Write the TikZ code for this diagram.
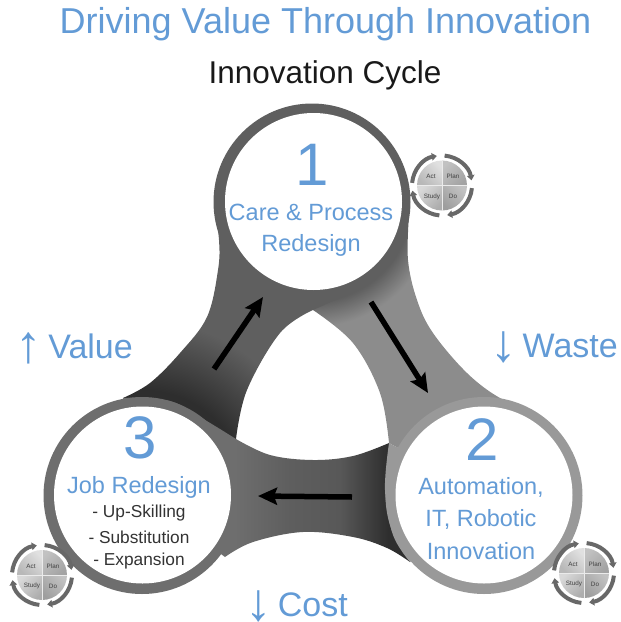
\documentclass[tikz,border=0pt]{standalone}
\usepackage{fontspec}
\setmainfont{Liberation Sans}
\usetikzlibrary{arrows.meta}
\definecolor{blueT}{HTML}{639BD6}
\definecolor{ringA}{HTML}{5F5F5F}
\definecolor{ringB}{HTML}{999999}
\definecolor{ringC}{HTML}{6E6E6E}
\definecolor{bandB}{HTML}{8C8C8C}
\definecolor{darkS}{HTML}{2E2E2E}
\definecolor{midC}{HTML}{5E5E5E}
\definecolor{midD}{HTML}{585858}
\definecolor{iconG}{HTML}{686868}
\pgfdeclareradialshading{shA}{\pgfpointorigin}{color(0bp)=(darkS); color(8.75bp)=(darkS); color(14.6bp)=(ringA); color(50bp)=(ringA)}
\pgfdeclareradialshading{shB}{\pgfpointorigin}{color(0bp)=(ringA); color(8.3bp)=(ringA); color(10.4bp)=(bandB); color(50bp)=(bandB)}
\pgfdeclarehorizontalshading{shC}{100bp}{color(0bp)=(ringC); color(46bp)=(ringC); color(54.7bp)=(midC); color(62.5bp)=(midD); color(70bp)=(darkS); color(100bp)=(darkS)}
\newcommand{\upmark}{\raisebox{-4pt}{\fontsize{53}{53}\selectfont ↑}}
\newcommand{\downmark}{\raisebox{-4pt}{\fontsize{53}{53}\selectfont ↓}}
\tikzset{
  titlet/.style={text=blueT,font=\fontsize{36}{36}\selectfont,inner sep=0pt},
  subt/.style={text=black!90,font=\fontsize{31.5}{31.5}\selectfont,inner sep=0pt},
  numt/.style={text=blueT,font=\fontsize{60}{60}\selectfont,inner sep=0pt},
  labt/.style={text=blueT,font=\fontsize{23.5}{23.5}\selectfont,inner sep=0pt},
  sidet/.style={text=blueT,font=\fontsize{34}{34}\selectfont,inner sep=0pt,anchor=base east},
  listt/.style={text=black!80,font=\fontsize{17.3}{17.3}\selectfont,inner sep=0pt},
  flow/.style={line width=5.5pt,draw=black,-{Stealth[length=19pt,width=17pt,inset=3pt]}},
  pdcat/.style={font=\fontsize{6.3}{6.3}\selectfont,text=black!75,inner sep=0pt},
  cyc/.style={draw=iconG,line width=4pt,-{Triangle[length=5pt,width=7.5pt]}},
  pics/pdca/.style={code={
    \begin{scope}[y=1pt,x=1pt]
      \shade[top color=black!12,bottom color=black!28,shading angle=315] (0,0) -- (-25,0) arc[start angle=180,end angle=90,radius=25pt] -- cycle;
      \shade[top color=black!24,bottom color=black!36,shading angle=45] (0,0) -- (0,25) arc[start angle=90,end angle=0,radius=25pt] -- cycle;
      \shade[top color=black!24,bottom color=black!38,shading angle=315] (0,0) -- (25,0) arc[start angle=0,end angle=-90,radius=25pt] -- cycle;
      \shade[top color=black!15,bottom color=black!32,shading angle=45] (0,0) -- (0,-25) arc[start angle=-90,end angle=-180,radius=25pt] -- cycle;
      \draw[black!8,line width=.7pt] (-25,0) -- (25,0) (0,-25) -- (0,25);
      \node[pdcat] (-act) at (-11,9) {Act};
      \node[pdcat] (-plan) at (11,9) {Plan};
      \node[pdcat] (-study) at (-10,-11) {Study};
      \node[pdcat] (-do) at (11,-11) {Do};
      \draw[cyc] (175:30) arc[start angle=175,end angle=100,radius=30pt];
      \draw[cyc] (85:30) arc[start angle=85,end angle=10,radius=30pt];
      \draw[cyc] (-5:30) arc[start angle=-5,end angle=-80,radius=30pt];
      \draw[cyc] (-95:30) arc[start angle=-95,end angle=-170,radius=30pt];
    \end{scope}
  }}
}
\begin{document}
\begin{tikzpicture}[x=1pt,y=-1pt]
\useasboundingbox (0,0) rectangle (621,622);
% band B : light, from disc 1 to disc 2
\begin{scope}
  \clip (300,200) -- plot[smooth,tension=.6] coordinates {(409,215) (408,260) (417,300) (433,333) (467,373) (500,398) (532,410)} -- (484,495)
     -- plot[smooth,tension=.6] coordinates {(389,443) (380,393) (353,343) (313,310)} -- cycle;
  \shade[shading=shB] (12,-98) rectangle (612,502);
\end{scope}
% disc 1 + band A
\fill[ringA] (312,202) circle[radius=98.5pt];
\begin{scope}
  \clip plot[smooth,tension=.6] coordinates {(214,205) (219,240) (218,270) (207,317) (180,353) (150,383) (123,398)} -- (142,495) -- (236,439)
     -- plot[smooth,tension=.6] coordinates {(236,439) (247,390) (280,333) (313,310)}
     -- plot[smooth,tension=.6] coordinates {(313,310) (350,292) (392,262) (408,225)} -- (312,202) -- cycle;
  \shade[shading=shA] (-158,195) rectangle (442,795);
\end{scope}
% disc 3 + band C
\fill[ringC] (142,495.5) circle[radius=98.5pt];
\begin{scope}
  \clip plot[smooth,tension=.6] coordinates {(123,398) (170,401) (205,420) (236,439)}
     -- plot[smooth,tension=.6] coordinates {(236,439) (270,455) (313,460) (353,456) (389,443)} -- (420,495) -- (410,562)
     -- plot[smooth,tension=.6] coordinates {(410,562) (387,548) (353,537) (303,532) (253,542) (225,557)} -- (142,495) -- cycle;
  \shade[shading=shC] (100,390) rectangle (420,600);
\end{scope}
% disc 2 + its flank over band C
\fill[ringB] (484,495.5) circle[radius=98.5pt];
\fill[ringB] plot[smooth,tension=.6] coordinates {(389,443) (385,490) (393,535) (410,562)} -- (484,495) -- cycle;
% white discs
\fill[white] (313.5,201.5) circle[radius=88.5pt];
\fill[white] (484,495) circle[radius=88.5pt];
\fill[white] (142.5,495) circle[radius=88.5pt];
% arrows
\coordinate (a1) at (214,369); \coordinate (a2) at (263,297);
\coordinate (b1) at (371,302); \coordinate (b2) at (428,393);
\coordinate (c1) at (352,497); \coordinate (c2) at (258,496);
\draw[flow] (a1) -- (a2);
\draw[flow] (b1) -- (b2);
\draw[flow] (c1) -- (c2);
% text
\node[titlet] (t1) at (325.5,24) {Driving Value Through Innovation};
\node[subt] (t2) at (325,75) {Innovation Cycle};
\node[numt] (n1) at (312,165) {1};
\node[labt] (l1a) at (311,212) {Care \& Process};
\node[labt] (l1b) at (311,245) {Redesign};
\node[numt] (n2) at (482,440) {2};
\node[labt] (l2a) at (481,487) {Automation,};
\node[labt] (l2b) at (481,519) {IT, Robotic};
\node[labt] (l2c) at (481,551) {Innovation};
\node[numt] (n3) at (140,438) {3};
\node[labt] (l3) at (139,487) {Job Redesign};
\node[listt] (s1) at (139,513) {- Up-Skilling};
\node[listt] (s2) at (139,537) {- Substitution};
\node[listt] (s3) at (139,561) {- Expansion};
\node[sidet] (v) at (133,358) {\upmark\hspace{6pt}Value};
\node[sidet] (w) at (618,357) {\downmark\hspace{6pt}Waste};
\node[sidet] (k) at (348,616) {\downmark\hspace{6pt}Cost};
\pic (p1) at (442,185.5) {pdca};
\pic (p2) at (42,575) {pdca};
\pic (p3) at (584,573) {pdca};
\end{tikzpicture}
\end{document}
